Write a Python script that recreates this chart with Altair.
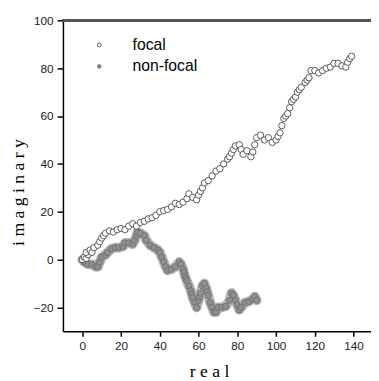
import altair as alt
import pandas as pd

# ---- data ----
series_names = ["focal", "non-focal"]

focal_x = [0, 1, 2, 3, 2, 4, 5, 6, 8, 9, 10, 11, 12, 14, 16, 18, 20, 22, 24, 26, 28, 30, 32, 34, 36, 38,
           40, 42, 44, 46, 48, 50, 52, 54, 55, 57, 59, 60, 61, 62, 63, 65, 67, 69, 71, 73, 75, 76, 77,
           78, 79, 81, 82, 83, 85, 87, 88, 89, 90, 92, 94, 96, 98, 100, 101, 102, 103, 104, 105, 106,
           107, 108, 109, 110, 111, 112, 113, 115, 116, 117, 118, 120, 122, 124, 126, 128, 130, 132,
           134, 136, 137, 138, 139]
focal_y = [0, 1, 0.5, 2, 3, 4, 3, 5, 6, 7.5, 9, 10, 11, 12, 11.5, 12.5, 13, 12.5, 14, 15, 14, 15.5, 16,
           17, 17.5, 18.5, 20, 20.5, 21, 22, 23.5, 23, 24, 25.5, 27.5, 26, 25, 27, 28.5, 30, 32, 33, 35,
           37, 38, 40, 42, 43, 44.5, 46, 47.5, 48, 46, 44, 45.5, 43, 45, 48, 51, 52, 50, 51, 49, 50,
           51.5, 53, 56, 59, 60, 61, 63.5, 66, 67, 68, 70, 71, 72, 74, 75, 76, 79, 79, 78, 79, 80,
           80.5, 82, 82, 81, 80.5, 82.5, 84, 85]

nonfocal_x = [0, 1, 2, 3, 5, 7, 8, 9, 10, 12, 13, 15, 17, 19, 21, 22, 24, 26, 27, 28, 28.5, 30, 32, 33,
              35, 37, 39, 40, 41, 42, 43, 44, 46, 48, 50, 51, 52, 52.5, 53, 53.5, 54, 55, 56, 56.5, 57,
              58, 59, 60, 60.5, 61, 62, 63, 64, 64.5, 65, 66, 67, 68, 69, 70, 72, 74, 76, 77, 78, 79,
              80, 81, 82, 84, 86, 88, 89, 90]
nonfocal_y = [0, -1, -1.5, -2, -2, -3, -3, -1, 1, 2, 3, 4.5, 5, 5, 5.5, 7, 7, 6.5, 8, 10, 11.5, 11, 10,
              8, 6, 5, 4, 3, 1, -1, -3, -4.5, -4, -3, -1, -2, -4, -5.5, -7, -8, -9, -11, -13, -14.5,
              -16, -18, -20, -17, -15.5, -14, -11, -10, -12, -13.5, -15, -18, -20, -22, -22, -20, -20,
              -19.5, -17, -14, -15, -17, -19, -21, -20, -18, -17.5, -16.5, -15.5, -17]

x_ticks = [0, 20, 40, 60, 80, 100, 120, 140]
y_ticks = [-20, 0, 20, 40, 60, 80, 100]

nf = pd.DataFrame({"re": nonfocal_x, "im": nonfocal_y, "series": "non-focal"})
fo = pd.DataFrame({"re": focal_x, "im": focal_y, "series": "focal"})
df = pd.concat([nf, fo], ignore_index=True)
df["step"] = range(len(df))
nf["step"] = range(len(nf))

W, H = 314, 317
xs = alt.Scale(domain=[-10, 149], nice=False, zero=False)
ys = alt.Scale(domain=[-30, 100], nice=False, zero=False)

x_enc = alt.X("re:Q", scale=xs,
              axis=alt.Axis(values=x_ticks, title="r  e  a  l", grid=False,
                            labelFont="Liberation Sans", labelFontSize=12, labelColor="#222",
                            labelPadding=4, tickSize=5, tickColor="#000", tickWidth=1.5,
                            domainColor="#000", domainWidth=1.5,
                            titleFont="Liberation Serif", titleFontSize=18, titleFontWeight="normal",
                            titleColor="#000", titleX=149, titleY=46, titleBaseline="alphabetic",
                            titleAlign="center"))
y_enc = alt.Y("im:Q", scale=ys,
              axis=alt.Axis(values=y_ticks, title="i  m  a  g  i  n  a  r  y", grid=False,
                            labelFont="Liberation Sans", labelFontSize=12, labelColor="#222",
                            labelPadding=4, tickSize=6, tickColor="#000", tickWidth=1.5,
                            domainColor="#000", domainWidth=1.5,
                            titleFont="Liberation Serif", titleFontSize=18, titleFontWeight="normal",
                            titleColor="#000", titleAngle=270, titleX=-40, titleY=175,
                            titleBaseline="alphabetic", titleAlign="center"))

band = alt.Chart(nf).mark_line(color="#b5b5b5", strokeWidth=10, strokeJoin="round",
                               strokeCap="round").encode(
    x=alt.X("re:Q", scale=xs), y=alt.Y("im:Q", scale=ys), order="step:Q",
)

points = alt.Chart(df).mark_circle(size=42, strokeWidth=0.8, opacity=1).encode(
    x=x_enc,
    y=y_enc,
    order="step:Q",
    fill=alt.Fill("series:N", scale=alt.Scale(domain=series_names, range=["#ffffff", "#8f8f8f"]),
                  legend=alt.Legend(title=None, orient="none", legendX=29, legendY=17,
                                    labelFont="Liberation Sans", labelFontSize=16,
                                    labelColor="#000", labelOffset=26, symbolSize=14,
                                    symbolStrokeWidth=0.8, rowPadding=6, padding=0)),
    stroke=alt.Stroke("series:N", scale=alt.Scale(domain=series_names, range=["#333333", "#6a6a6a"]),
                      legend=None),
)

top_border = alt.Chart(df).mark_rule(color="#555", strokeWidth=2).encode(
    x=alt.value(0), x2=alt.value(W), y=alt.value(0)
)

chart = alt.layer(band, points, top_border).properties(
    width=W, height=H,
    autosize=alt.AutoSizeParams(type="none"),
    padding={"left": 56, "top": 9, "right": 0, "bottom": 46},
).configure_view(stroke=None).configure(background="white")

chart.save("out.html", embed_options={"renderer": "svg", "actions": False})
